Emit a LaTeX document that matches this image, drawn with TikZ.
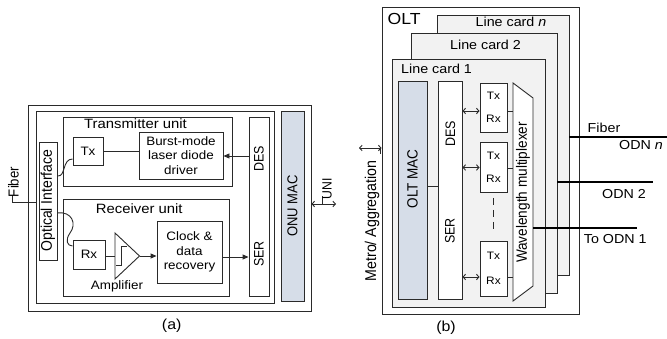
\documentclass[tikz,border=0pt]{standalone}
\usepackage{fontspec}
\usepackage{graphicx}
\setmainfont{Liberation Sans}
\newfontfamily\hfont{Liberation Sans}[FakeStretch=1.1]
\usetikzlibrary{arrows.meta}
\definecolor{linec}{HTML}{2A2A2A}
\definecolor{macfill}{HTML}{D6DDE8}
\definecolor{cardfill}{HTML}{F2F2F2}
% vertical text, widened across its height like the horizontal labels
\newcommand{\rtext}[1]{\scalebox{1}[1.1]{#1}}
\newcommand{\hfs}[2]{\hfont\fontsize{#1}{#2}\selectfont}
\newcommand{\rfs}[1]{\fontsize{#1}{#1}\selectfont}
\begin{document}
\begin{tikzpicture}[x=1pt,y=-1pt,
  ln/.style={draw=linec, line width=0.9pt},
  box/.style={draw=linec, line width=0.9pt, fill=white, inner sep=0pt},
  sz/.style 2 args={minimum width=#1pt, minimum height=#2pt},
  hl/.style={inner sep=0pt, font=\hfs{13}{15}},
  rl/.style={inner sep=0pt, rotate=90, font=\rfs{13}},
  tri/.style={-{Triangle[length=6pt,width=5pt]}},
  dbl/.style={{Straight Barb[length=2.5pt,width=5.5pt]}-{Straight Barb[length=2.5pt,width=5.5pt]}},
  fib/.style={draw=black, line width=1.9pt},
  dashline/.style={ln, dash pattern=on 7pt off 5pt}]
\useasboundingbox (0,0) rectangle (667,339);

% ===================== (a) ONU =====================
\node[box, sz={283}{206}] (onu) at (169.5,208) {};
\node[box, sz={238}{192}] (onuin) at (155,207) {};
\node[box, fill=macfill, sz={23}{190}] (onumac) at (292.5,206) {};
\node[rl] (onumaclab) at (292.5,206) {\rtext{ONU MAC}};
\node[box, sz={20}{179}] (desA) at (259,206.5) {};
\node[rl, font=\rfs{12.5}] (desAlab) at (259,159) {\rtext{DES}};
\node[rl, font=\rfs{12.5}] (serAlab) at (259,254) {\rtext{SER}};

% transmitter unit
\node[box, sz={169}{69}] (txu) at (147.5,151.5) {};
\node[hl, font=\hfs{13.5}{15}, anchor=base] (txulab) at (135.5,128.3) {Transmitter unit};
\node[box, sz={30}{28}, font=\hfs{12.2}{14}] (txa) at (88,151) {Tx};
\node[box, sz={84}{47}, align=center, font=\hfs{12.2}{14.3}] (burst) at (181,155.5) {Burst-mode\\laser diode\\driver};

% optical interface
\node[box, sz={18}{118}] (oi) at (48,201) {};
\node[rl, font=\rfs{14}] (oilab) at (48,200.5) {\rtext{Optical Interface}};

% receiver unit
\node[box, sz={166}{97}] (rxu) at (146,247.5) {};
\node[hl, font=\hfs{13.5}{15}, anchor=base] (rxulab) at (139.3,214) {Receiver unit};
\node[box, sz={32}{29}, font=\hfs{12.2}{14}] (rxa) at (89,254.5) {Rx};
\coordinate (ampin) at (115,256);
\coordinate (ampout) at (139.5,256);
\draw[ln, fill=white] (115,233) -- (ampout) -- (115,279) -- cycle;
\draw[ln] (116,265) -- (121.7,265) -- (121.7,246.7) -- (126.7,246.7);
\node[hl, font=\hfs{12.2}{14}, anchor=base] (amplab) at (117,290) {Amplifier};
\node[box, sz={65}{62}, align=center, font=\hfs{12.2}{14.2}] (cdr) at (189.5,252) {Clock \&\\data\\recovery};

% connections inside the ONU
\draw[ln] (txa.east) -- (burst.west |- txa.east);
\draw[ln, tri] (desA.west |- 0,156) -- (burst.east |- 0,156);
\draw[ln] (rxa.east |- ampin) -- (ampin);
\draw[ln, tri] (ampout) -- (cdr.west |- ampout);
\draw[ln, tri] (cdr.east |- 0,257) -- (desA.west |- 0,257);
\draw[ln] (oi.east |- 0,176) .. controls (66,177) and (62,159) .. (txa.west |- 0,159);
\draw[ln] (oi.east |- 0,213) .. controls (72,211) and (77,224) .. (70,233)
          .. controls (65,240) and (67,246) .. (rxa.west |- 0,246);

% fiber and UNI
\coordinate (fibA) at (12.3,202);
\draw[ln] (12.3,195) -- (fibA) -- (onuin.west |- fibA);
\node[rl, font=\rfs{13.2}] (fiberAlab) at (13.5,182) {\rtext{Fiber}};
\coordinate (uniend) at (336,204);
\draw[ln, dbl] (onu.east |- uniend) -- (uniend);
\draw[ln] (322,204) -- (322,196);
\node[rl, font=\rfs{12.2}] (unilab) at (327,188.5) {\rtext{UNI}};
\node[hl, font=\hfs{14.5}{16}, anchor=base] (capa) at (171.7,330) {(a)};

% ===================== (b) OLT =====================
\node[box, sz={197}{307}] (olt) at (480.5,160.5) {};
\node[hl, font=\hfs{16}{18}, anchor=base west] (oltlab) at (387.5,24.5) {OLT};
\node[box, fill=cardfill, sz={132}{260}] (cardn) at (503,145) {};
\node[hl, anchor=base] (cardnlab) at (511,26.5) {Line card \textit{n}};
\node[box, fill=cardfill, sz={146}{260}] (card2) at (484,163) {};
\node[hl, anchor=base] (card2lab) at (485.5,49.3) {Line card 2};
\node[box, fill=cardfill, sz={153}{248}] (card1) at (468.5,183) {};
\node[hl, anchor=base west] (card1lab) at (401,74) {Line card 1};

\node[box, fill=macfill, sz={29}{218}] (oltmac) at (412.5,190) {};
\node[rl, font=\rfs{13.5}] (oltmaclab) at (412.5,179) {\rtext{OLT MAC}};
\node[box, sz={24}{218}] (desB) at (450,190) {};
\node[rl, font=\rfs{12.5}] (desBlab) at (450.5,134) {\rtext{DES}};
\node[rl, font=\rfs{12.5}] (serBlab) at (450,231) {\rtext{SER}};
\draw[ln] (oltmac.east |- 0,186) -- (desB.west |- 0,186);

% transceivers
\node[box, sz={27}{49}] (trx1) at (493.5,107.5) {};
\node[hl, font=\hfs{10.8}{12}] (tx1) at (493.5,96) {Tx};
\node[hl, font=\hfs{10.8}{12}] (rx1) at (493.5,119) {Rx};
\node[box, sz={27}{50}] (trx2) at (493.5,167) {};
\node[hl, font=\hfs{10.8}{12}] (tx2) at (493.5,155.5) {Tx};
\node[hl, font=\hfs{10.8}{12}] (rx2) at (493.5,178.5) {Rx};
\node[box, sz={27}{55}] (trx3) at (493.5,268.5) {};
\node[hl, font=\hfs{10.8}{12}] (tx3) at (493.5,255.5) {Tx};
\node[hl, font=\hfs{10.8}{12}] (rx3) at (493.5,281) {Rx};
\draw[dashline] (trx2.south |- 0,198) -- (trx3.north |- 0,234);

% wavelength multiplexer
\coordinate (m1) at (513,83);
\coordinate (m2) at (533,98);
\coordinate (m3) at (533,286);
\coordinate (m4) at (513,301);
\draw[ln, fill=white] (m1) -- (m2) -- (m3) -- (m4) -- cycle;
\node[rl, font=\rfs{13.6}] (muxlab) at (523,192.5) {\rtext{Wavelength multiplexer}};

\draw[ln, dbl] (desB.east |- 0,111) -- (trx1.west |- 0,111);
\draw[ln] (trx1.east |- 0,111) -- (m1 |- 0,111);
\draw[ln, dbl] (desB.east |- 0,167.5) -- (trx2.west |- 0,167.5);
\draw[ln] (trx2.east |- 0,168) -- (m1 |- 0,168);
\draw[ln, dbl] (desB.east |- 0,277) -- (trx3.west |- 0,277);
\draw[ln] (trx3.east |- 0,277) -- (m1 |- 0,277);

% fibers to the ODNs
\coordinate (odnn) at (667,137);
\coordinate (odn2) at (653,182);
\coordinate (odn1) at (637,228);
\draw[fib] (cardn.east |- odnn) -- (odnn);
\draw[fib] (card2.east |- odn2) -- (odn2);
\draw[fib] (m2 |- odn1) -- (odn1);
\node[hl, anchor=base] (fiberBlab) at (604,133) {Fiber};
\node[hl, anchor=base west] (odnnlab) at (619,149.3) {ODN \textit{n}};
\node[hl, anchor=base] (odn2lab) at (624,198.3) {ODN 2};
\node[hl, anchor=base] (odn1lab) at (615.3,243.3) {To ODN 1};

% metro / aggregation side
\coordinate (metroend) at (359,148);
\draw[ln, dbl] (metroend) -- (olt.west |- metroend);
\draw[ln] (380,148) -- (380,154);
\node[rl, font=\rfs{14.2}] (metrolab) at (372,221) {\rtext{Metro/ Aggregation}};
\node[hl, font=\hfs{14.5}{16}, anchor=base] (capb) at (446,331) {(b)};
\end{tikzpicture}
\end{document}
